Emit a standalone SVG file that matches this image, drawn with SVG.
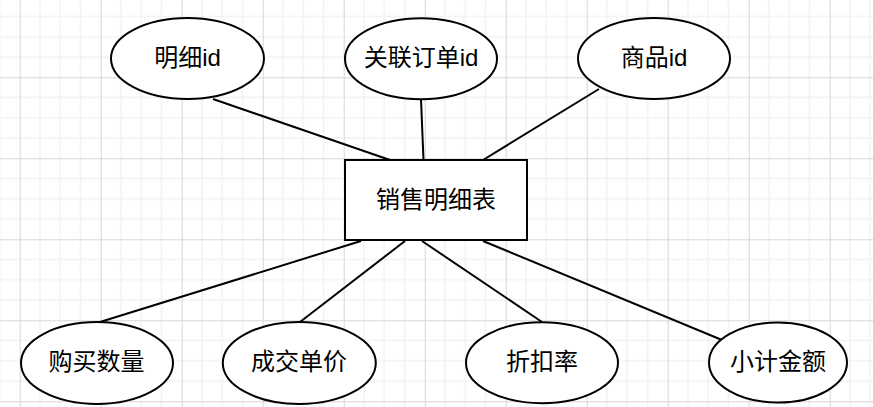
<svg xmlns="http://www.w3.org/2000/svg" width="873" height="407" viewBox="0 0 873 407">
  <defs>
    <pattern id="grid" patternUnits="userSpaceOnUse" x="19.7" y="-3.7" width="81" height="81">
      <path d="M20.25 0V81M40.5 0V81M60.75 0V81M0 20.25H81M0 40.5H81M0 60.75H81" stroke="#f2f2f2" stroke-width="1.5" fill="none"/>
      <path d="M0.5 0V81M0 0.5H81" stroke="#d6d6d6" stroke-width="1" fill="none"/>
    </pattern>
  </defs>
  <style>
    .shape { fill: #ffffff; stroke: #000000; stroke-width: 2; }
    .conn { stroke: #000000; stroke-width: 2; fill: none; }
    .label { font-family: "Liberation Sans", "Noto Sans CJK SC", sans-serif; font-size: 24px; fill: #000000; text-anchor: middle; dominant-baseline: central; }
  </style>
  <rect x="0" y="0" width="873" height="407" fill="#ffffff"/>
  <rect x="0" y="0" width="873" height="407" fill="url(#grid)"/>

  <g id="connectors">
    <line class="conn" x1="213" y1="99" x2="390" y2="160"/>
    <line class="conn" x1="421" y1="99.5" x2="423.5" y2="160"/>
    <line class="conn" x1="599" y1="89" x2="483" y2="160"/>
    <line class="conn" x1="100" y1="322" x2="361" y2="241"/>
    <line class="conn" x1="300" y1="322" x2="405" y2="241"/>
    <line class="conn" x1="542" y1="322" x2="422" y2="241"/>
    <line class="conn" x1="722" y1="340" x2="483" y2="241"/>
  </g>

  <g id="entity">
    <rect class="shape" x="345" y="160" width="182" height="80"/>
    <text class="label" x="436" y="199">销售明细表</text>
  </g>
  <g id="attr-detail-id">
    <ellipse class="shape" cx="187.5" cy="58.5" rx="76.5" ry="40.5"/>
    <text class="label" x="187.5" y="57">明细id</text>
  </g>
  <g id="attr-order-id">
    <ellipse class="shape" cx="421" cy="58.8" rx="76" ry="40.5"/>
    <text class="label" x="421" y="57">关联订单id</text>
  </g>
  <g id="attr-product-id">
    <ellipse class="shape" cx="654" cy="58.5" rx="76" ry="40.5"/>
    <text class="label" x="654" y="57">商品id</text>
  </g>
  <g id="attr-quantity">
    <ellipse class="shape" cx="97" cy="363" rx="76" ry="41"/>
    <text class="label" x="96.5" y="361.5">购买数量</text>
  </g>
  <g id="attr-price">
    <ellipse class="shape" cx="299.3" cy="363" rx="76.5" ry="41"/>
    <text class="label" x="299" y="361.5">成交单价</text>
  </g>
  <g id="attr-discount">
    <ellipse class="shape" cx="542" cy="362.7" rx="76" ry="40.5"/>
    <text class="label" x="542" y="361.5">折扣率</text>
  </g>
  <g id="attr-subtotal">
    <ellipse class="shape" cx="778" cy="362.5" rx="69" ry="40"/>
    <text class="label" x="778" y="361.5">小计金额</text>
  </g>
</svg>
